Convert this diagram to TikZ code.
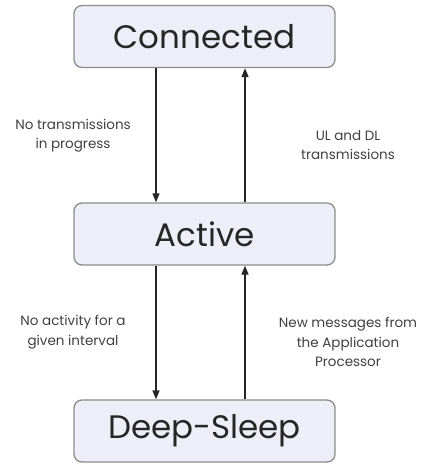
\documentclass[tikz,border=0pt]{standalone}
\usepackage{fontspec}
\setmainfont{Poppins}
\usetikzlibrary{arrows.meta}
\begin{document}
\begin{tikzpicture}[x=1pt,y=-1pt,
  state/.style={draw=black!45, line width=1.3pt, fill={rgb,255:red,238;green,238;blue,248},
    rounded corners=8pt, minimum width=261pt, minimum height=62pt, inner sep=0pt,
    font=\fontsize{32.5}{36}\selectfont\color{black!85}},
  trans/.style={line width=1.4pt, draw=black!85, -{Triangle[length=9pt,width=7pt]}},
  note/.style={align=center, font=\fontsize{13.5}{19.5}\selectfont\color{black!75}, inner sep=0pt}]
\useasboundingbox (0,0) rectangle (430,465);
\node[state] (con) at (204.5,36.5) {Connected};
\node[state] (act) at (204.5,234) {Active};
\node[state] (ds)  at (204.5,431) {Deep-Sleep};
% downward and upward transitions
\draw[trans] (con.south -| 156,0) -- (act.north -| 156,0);
\draw[trans] (act.north -| 245,0) -- (con.south -| 245,0);
\draw[trans] (act.south -| 156,0) -- (ds.north -| 156,0);
\draw[trans] (ds.north -| 245,0) -- (act.south -| 245,0);
% transition labels
\node[note] (l1) at (73,135.5) {No transmissions\\in progress};
\node[note] (l2) at (348,145) {UL and DL\\transmissions};
\node[note] (l3) at (73,332) {No activity for a\\given interval};
\node[note] (l4) at (348,342) {New messages from\\the Application\\Processor};
\end{tikzpicture}
\end{document}
